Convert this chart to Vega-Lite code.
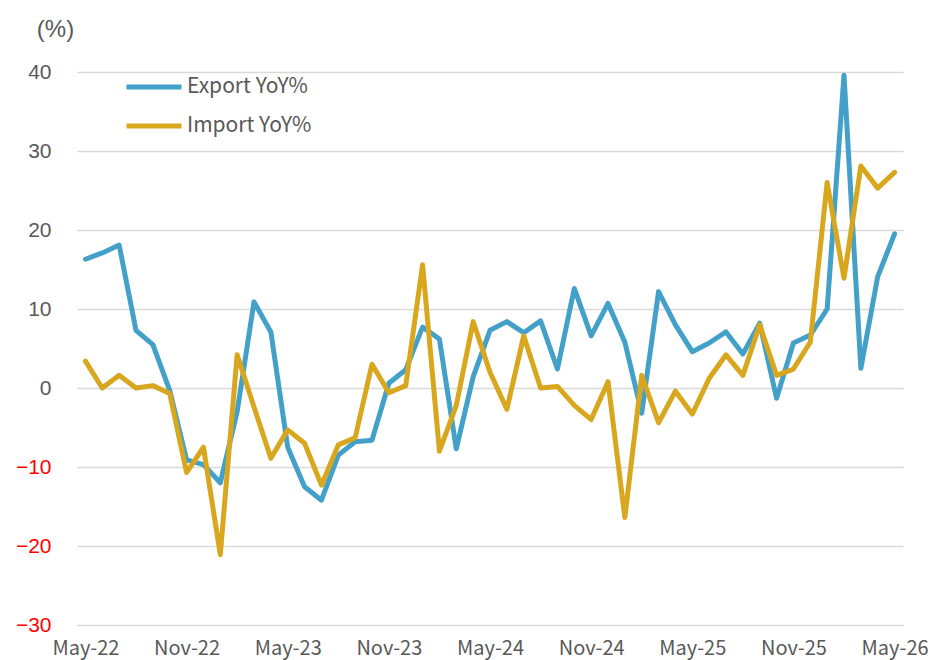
{
  "$schema": "https://vega.github.io/schema/vega-lite/v6.json",
  "width": 826,
  "height": 553,
  "autosize": "none",
  "padding": {"left": 77, "top": 72, "right": 29, "bottom": 35},
  "background": "white",
  "config": {"view": {"stroke": null}},
  "data": {
    "values": [
      {"month": "May-22", "series": "Export YoY%", "value": 16.3},
      {"month": "Jun-22", "series": "Export YoY%", "value": 17.1},
      {"month": "Jul-22", "series": "Export YoY%", "value": 18.1},
      {"month": "Aug-22", "series": "Export YoY%", "value": 7.3},
      {"month": "Sep-22", "series": "Export YoY%", "value": 5.5},
      {"month": "Oct-22", "series": "Export YoY%", "value": -0.3},
      {"month": "Nov-22", "series": "Export YoY%", "value": -9.1},
      {"month": "Dec-22", "series": "Export YoY%", "value": -9.7},
      {"month": "Jan-23", "series": "Export YoY%", "value": -12.0},
      {"month": "Feb-23", "series": "Export YoY%", "value": -3.0},
      {"month": "Mar-23", "series": "Export YoY%", "value": 10.9},
      {"month": "Apr-23", "series": "Export YoY%", "value": 7.1},
      {"month": "May-23", "series": "Export YoY%", "value": -7.5},
      {"month": "Jun-23", "series": "Export YoY%", "value": -12.5},
      {"month": "Jul-23", "series": "Export YoY%", "value": -14.2},
      {"month": "Aug-23", "series": "Export YoY%", "value": -8.5},
      {"month": "Sep-23", "series": "Export YoY%", "value": -6.8},
      {"month": "Oct-23", "series": "Export YoY%", "value": -6.6},
      {"month": "Nov-23", "series": "Export YoY%", "value": 0.6},
      {"month": "Dec-23", "series": "Export YoY%", "value": 2.3},
      {"month": "Jan-24", "series": "Export YoY%", "value": 7.7},
      {"month": "Feb-24", "series": "Export YoY%", "value": 6.2},
      {"month": "Mar-24", "series": "Export YoY%", "value": -7.7},
      {"month": "Apr-24", "series": "Export YoY%", "value": 1.4},
      {"month": "May-24", "series": "Export YoY%", "value": 7.3},
      {"month": "Jun-24", "series": "Export YoY%", "value": 8.4},
      {"month": "Jul-24", "series": "Export YoY%", "value": 7.0},
      {"month": "Aug-24", "series": "Export YoY%", "value": 8.5},
      {"month": "Sep-24", "series": "Export YoY%", "value": 2.4},
      {"month": "Oct-24", "series": "Export YoY%", "value": 12.6},
      {"month": "Nov-24", "series": "Export YoY%", "value": 6.6},
      {"month": "Dec-24", "series": "Export YoY%", "value": 10.7},
      {"month": "Jan-25", "series": "Export YoY%", "value": 5.8},
      {"month": "Feb-25", "series": "Export YoY%", "value": -3.2},
      {"month": "Mar-25", "series": "Export YoY%", "value": 12.2},
      {"month": "Apr-25", "series": "Export YoY%", "value": 8.0},
      {"month": "May-25", "series": "Export YoY%", "value": 4.6},
      {"month": "Jun-25", "series": "Export YoY%", "value": 5.7},
      {"month": "Jul-25", "series": "Export YoY%", "value": 7.1},
      {"month": "Aug-25", "series": "Export YoY%", "value": 4.3},
      {"month": "Sep-25", "series": "Export YoY%", "value": 8.2},
      {"month": "Oct-25", "series": "Export YoY%", "value": -1.3},
      {"month": "Nov-25", "series": "Export YoY%", "value": 5.7},
      {"month": "Dec-25", "series": "Export YoY%", "value": 6.7},
      {"month": "Jan-26", "series": "Export YoY%", "value": 10.0},
      {"month": "Feb-26", "series": "Export YoY%", "value": 39.6},
      {"month": "Mar-26", "series": "Export YoY%", "value": 2.5},
      {"month": "Apr-26", "series": "Export YoY%", "value": 14.1},
      {"month": "May-26", "series": "Export YoY%", "value": 19.5},
      {"month": "May-22", "series": "Import YoY%", "value": 3.4},
      {"month": "Jun-22", "series": "Import YoY%", "value": 0.0},
      {"month": "Jul-22", "series": "Import YoY%", "value": 1.6},
      {"month": "Aug-22", "series": "Import YoY%", "value": 0.0},
      {"month": "Sep-22", "series": "Import YoY%", "value": 0.3},
      {"month": "Oct-22", "series": "Import YoY%", "value": -0.7},
      {"month": "Nov-22", "series": "Import YoY%", "value": -10.7},
      {"month": "Dec-22", "series": "Import YoY%", "value": -7.5},
      {"month": "Jan-23", "series": "Import YoY%", "value": -21.1},
      {"month": "Feb-23", "series": "Import YoY%", "value": 4.2},
      {"month": "Mar-23", "series": "Import YoY%", "value": -2.4},
      {"month": "Apr-23", "series": "Import YoY%", "value": -8.9},
      {"month": "May-23", "series": "Import YoY%", "value": -5.3},
      {"month": "Jun-23", "series": "Import YoY%", "value": -7.0},
      {"month": "Jul-23", "series": "Import YoY%", "value": -12.3},
      {"month": "Aug-23", "series": "Import YoY%", "value": -7.2},
      {"month": "Sep-23", "series": "Import YoY%", "value": -6.3},
      {"month": "Oct-23", "series": "Import YoY%", "value": 3.0},
      {"month": "Nov-23", "series": "Import YoY%", "value": -0.6},
      {"month": "Dec-23", "series": "Import YoY%", "value": 0.3},
      {"month": "Jan-24", "series": "Import YoY%", "value": 15.6},
      {"month": "Feb-24", "series": "Import YoY%", "value": -8.0},
      {"month": "Mar-24", "series": "Import YoY%", "value": -2.2},
      {"month": "Apr-24", "series": "Import YoY%", "value": 8.4},
      {"month": "May-24", "series": "Import YoY%", "value": 2.0},
      {"month": "Jun-24", "series": "Import YoY%", "value": -2.7},
      {"month": "Jul-24", "series": "Import YoY%", "value": 6.6},
      {"month": "Aug-24", "series": "Import YoY%", "value": 0.0},
      {"month": "Sep-24", "series": "Import YoY%", "value": 0.2},
      {"month": "Oct-24", "series": "Import YoY%", "value": -2.2},
      {"month": "Nov-24", "series": "Import YoY%", "value": -4.0},
      {"month": "Dec-24", "series": "Import YoY%", "value": 0.8},
      {"month": "Jan-25", "series": "Import YoY%", "value": -16.4},
      {"month": "Feb-25", "series": "Import YoY%", "value": 1.6},
      {"month": "Mar-25", "series": "Import YoY%", "value": -4.4},
      {"month": "Apr-25", "series": "Import YoY%", "value": -0.4},
      {"month": "May-25", "series": "Import YoY%", "value": -3.3},
      {"month": "Jun-25", "series": "Import YoY%", "value": 1.2},
      {"month": "Jul-25", "series": "Import YoY%", "value": 4.2},
      {"month": "Aug-25", "series": "Import YoY%", "value": 1.6},
      {"month": "Sep-25", "series": "Import YoY%", "value": 8.0},
      {"month": "Oct-25", "series": "Import YoY%", "value": 1.6},
      {"month": "Nov-25", "series": "Import YoY%", "value": 2.4},
      {"month": "Dec-25", "series": "Import YoY%", "value": 5.8},
      {"month": "Jan-26", "series": "Import YoY%", "value": 26.0},
      {"month": "Feb-26", "series": "Import YoY%", "value": 13.9},
      {"month": "Mar-26", "series": "Import YoY%", "value": 28.1},
      {"month": "Apr-26", "series": "Import YoY%", "value": 25.3},
      {"month": "May-26", "series": "Import YoY%", "value": 27.3}
    ]
  },
  "mark": {"type": "line", "strokeWidth": 5, "strokeCap": "round", "strokeJoin": "round"},
  "encoding": {
    "x": {
      "field": "month",
      "type": "ordinal",
      "sort": null,
      "scale": {"type": "point", "padding": 0.5},
      "axis": {
        "values": ["May-22", "Nov-22", "May-23", "Nov-23", "May-24", "Nov-24", "May-25", "Nov-25", "May-26"],
        "title": null,
        "labelAngle": 0,
        "domain": false,
        "ticks": false,
        "grid": false,
        "labelFont": "Noto Sans CJK JP",
        "labelFontSize": 20,
        "labelColor": "#595959",
        "labelPadding": 13,
        "labelOverlap": false,
        "labelBound": false
      }
    },
    "y": {
      "field": "value",
      "type": "quantitative",
      "scale": {"domain": [-30, 40], "nice": false, "zero": false},
      "axis": {
        "values": [-30, -20, -10, 0, 10, 20, 30, 40],
        "title": "(%)",
        "titleAngle": 0,
        "titleX": -22,
        "titleY": -43,
        "titleAlign": "center",
        "titleBaseline": "middle",
        "titleFont": "Liberation Sans",
        "titleFontSize": 24,
        "titleFontWeight": "normal",
        "titleColor": "#595959",
        "domain": false,
        "ticks": false,
        "grid": true,
        "gridColor": "#d9d9d9",
        "gridWidth": 1.5,
        "labelFont": "Liberation Sans",
        "labelFontSize": 21,
        "labelPadding": 26,
        "labelColor": {"expr": "datum.value < 0 ? '#ff0000' : '#595959'"}
      }
    },
    "color": {
      "field": "series",
      "type": "nominal",
      "scale": {"domain": ["Export YoY%", "Import YoY%"], "range": ["#43A0C9", "#D8A71E"]},
      "legend": {
        "title": null,
        "orient": "none",
        "legendX": 47,
        "legendY": 5,
        "symbolType": "stroke",
        "symbolStrokeWidth": 5,
        "symbolSize": 3025,
        "clipHeight": 20,
        "rowPadding": 18,
        "labelOffset": 3,
        "labelFont": "Noto Sans CJK JP",
        "labelFontSize": 21,
        "labelColor": "#595959"
      }
    }
  }
}
